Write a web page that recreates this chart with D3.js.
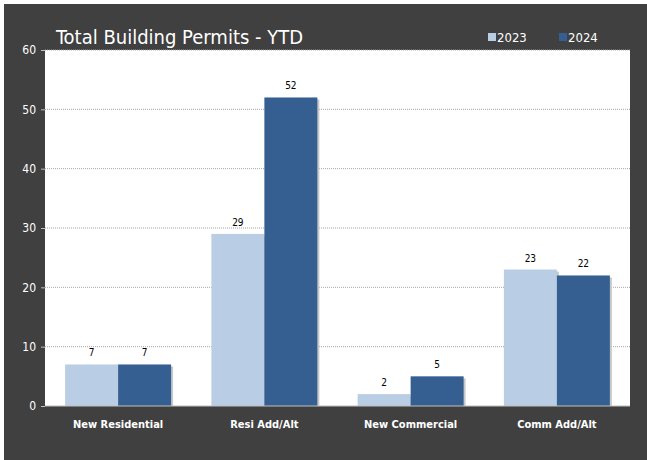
<!DOCTYPE html>
<html>
<head>
<meta charset="utf-8">
<script src="https://cdn.jsdelivr.net/npm/d3@7"></script>
<style>
  html, body { margin: 0; padding: 0; background: #fff; }
  svg { display: block; }
</style>
</head>
<body>
<svg id="chart" width="647" height="460"></svg>
<script>
// chart data
const categories = ['New Residential', 'Resi Add/Alt', 'New Commercial', 'Comm Add/Alt'];
const seriesNames = ['2023', '2024'];
const values2023 = [7, 29, 2, 23];
const values2024 = [7, 52, 5, 22];
const yTicks = [0, 10, 20, 30, 40, 50, 60];

const colors = { '2023': '#b9cde5', '2024': '#355f91' };
const font = '"DejaVu Sans Condensed", "DejaVu Sans", sans-serif';

const svg = d3.select('#chart');
const W = 647, H = 460;

// dark frame with the thin white edge along top and left
svg.append('rect').attr('x', 4).attr('y', 4).attr('width', W - 4).attr('height', H - 4)
  .style('fill', '#404040');

const plot = { left: 45, right: 630, top: 50, bottom: 406 };

svg.append('rect')
  .attr('x', plot.left).attr('y', plot.top)
  .attr('width', plot.right - plot.left).attr('height', plot.bottom - plot.top)
  .style('fill', '#fff');

const y = d3.scaleLinear().domain([0, 60]).range([plot.bottom, plot.top]);
const x0 = d3.scaleBand().domain(categories).range([plot.left, plot.right]).paddingInner(0).paddingOuter(0);
const x1 = d3.scaleBand().domain(seriesNames).range([0, x0.bandwidth()]).paddingOuter(0.38).paddingInner(0);

// gridlines
svg.append('g')
  .selectAll('line')
  .data(yTicks.filter(t => t > 0))
  .join('line')
  .attr('x1', plot.left).attr('x2', plot.right)
  .attr('y1', d => y(d)).attr('y2', d => y(d))
  .style('stroke', '#a6a6a6')
  .style('stroke-width', 1)
  .style('stroke-dasharray', '1,1');

// y axis
const yAxis = svg.append('g')
  .attr('transform', `translate(${plot.left},0)`)
  .call(d3.axisLeft(y).tickValues(yTicks).tickSize(4).tickPadding(5));
yAxis.select('.domain').remove();
yAxis.selectAll('.tick line').style('stroke', '#bfbfbf');
yAxis.selectAll('text').style('fill', '#fff').style('font-family', font).style('font-size', '12px');

// bars
const rows = categories.map((c, i) => ({ cat: c, vals: [
  { key: '2023', v: values2023[i] },
  { key: '2024', v: values2024[i] }
]}));

const groups = svg.append('g')
  .selectAll('g')
  .data(rows)
  .join('g')
  .attr('transform', d => `translate(${x0(d.cat)},0)`);

// soft shadow behind bars
groups.selectAll('rect.shadow')
  .data(d => d.vals)
  .join('rect')
  .classed('shadow', true)
  .attr('x', d => x1(d.key) + 2)
  .attr('y', d => y(d.v) + 2)
  .attr('width', x1.bandwidth())
  .attr('height', d => Math.max(0, plot.bottom - y(d.v) - 2))
  .style('fill', '#c8c8c8');

groups.selectAll('rect.bar')
  .data(d => d.vals)
  .join('rect')
  .classed('bar', true)
  .attr('x', d => x1(d.key))
  .attr('y', d => y(d.v))
  .attr('width', x1.bandwidth())
  .attr('height', d => plot.bottom - y(d.v))
  .style('fill', d => colors[d.key]);

groups.selectAll('text')
  .data(d => d.vals)
  .join('text')
  .attr('x', d => x1(d.key) + x1.bandwidth() / 2)
  .attr('y', d => y(d.v) - 8)
  .attr('text-anchor', 'middle')
  .style('font-family', font)
  .style('font-size', '10px')
  .style('fill', '#000')
  .text(d => d.v);

// baseline
svg.append('line')
  .attr('x1', plot.left).attr('x2', plot.right)
  .attr('y1', plot.bottom).attr('y2', plot.bottom)
  .style('stroke', '#bfbfbf');

// x labels
svg.append('g')
  .selectAll('text')
  .data(categories)
  .join('text')
  .attr('x', d => x0(d) + x0.bandwidth() / 2)
  .attr('y', 428)
  .attr('text-anchor', 'middle')
  .style('font-family', font)
  .style('font-size', '11px')
  .style('font-weight', 'bold')
  .style('fill', '#fff')
  .text(d => d);

// title
svg.append('text')
  .attr('x', 56).attr('y', 44)
  .style('font-family', font)
  .style('font-size', '20px')
  .style('fill', '#fff')
  .text('Total Building Permits - YTD');

// legend
const legend = svg.append('g')
  .selectAll('g')
  .data(seriesNames)
  .join('g')
  .attr('transform', (d, i) => `translate(${488 + i * 71},33)`);
legend.append('rect')
  .attr('width', 8).attr('height', 8)
  .style('fill', d => colors[d]);
legend.append('text')
  .attr('x', 9).attr('y', 9)
  .style('font-family', font)
  .style('font-size', '13px')
  .style('fill', '#fff')
  .text(d => d);
</script>
</body>
</html>
